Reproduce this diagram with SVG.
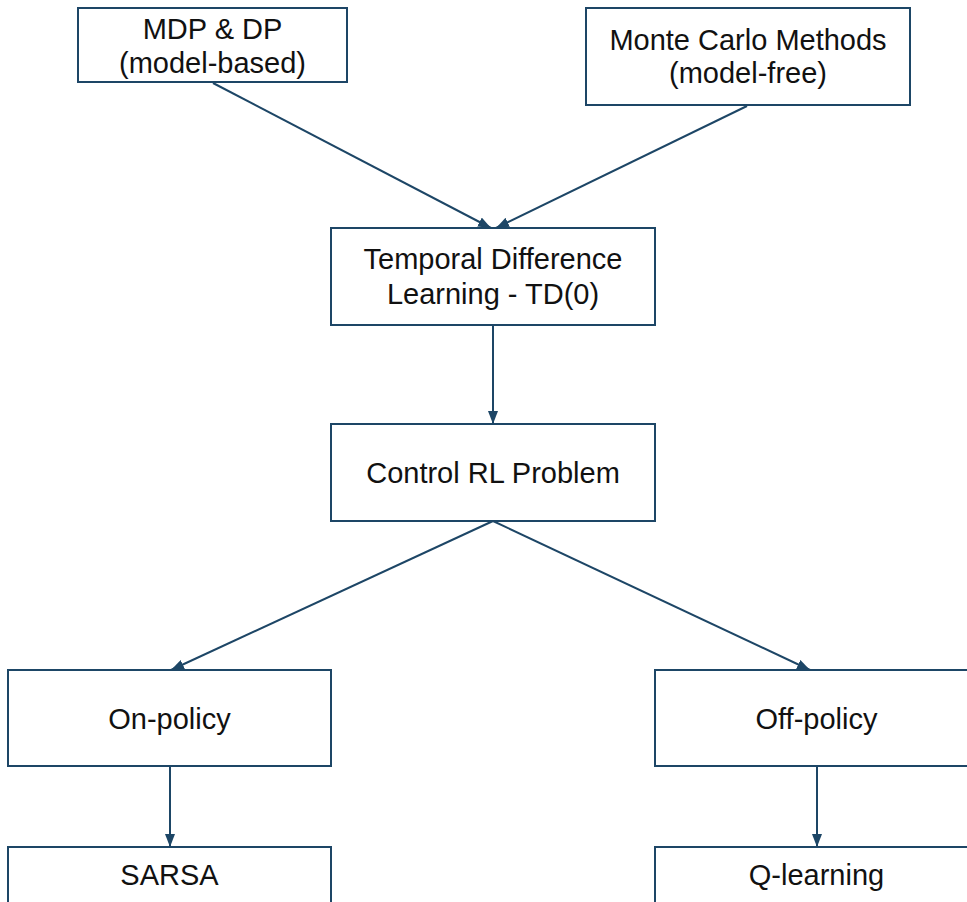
<svg xmlns="http://www.w3.org/2000/svg" width="967" height="902" viewBox="0 0 967 902">
  <style>
    .box { fill: #ffffff; stroke: #1d4666; stroke-width: 2; }
    .lbl { font-family: "Liberation Sans", Arial, sans-serif; font-size: 29px; fill: #111111; text-anchor: middle; }
    .edge { fill: none; stroke: #1d4666; stroke-width: 2; marker-end: url(#arrow); }
  </style>
  <defs>
    <marker id="arrow" markerUnits="userSpaceOnUse" markerWidth="13" markerHeight="10" refX="13" refY="5" orient="auto">
      <path d="M0,0 L13,5 L0,10 z" fill="#1d4666"/>
    </marker>
  </defs>
  <rect width="967" height="902" fill="#ffffff"/>

  <g id="edges">
    <path class="edge" d="M213,83 L491,228"/>
    <path class="edge" d="M747,106 L496,228"/>
    <path class="edge" d="M493,325 L493,424"/>
    <path class="edge" d="M493,521 L171,670"/>
    <path class="edge" d="M493,521 L810,670"/>
    <path class="edge" d="M170,766 L170,847"/>
    <path class="edge" d="M817,766 L817,847"/>
  </g>

  <g id="mdp-dp">
    <rect class="box" x="78" y="8" width="269" height="74"/>
    <text class="lbl" x="212.5" y="39">MDP &amp; DP</text>
    <text class="lbl" x="212.5" y="72.5">(model-based)</text>
  </g>

  <g id="monte-carlo">
    <rect class="box" x="586" y="8" width="324" height="97"/>
    <text class="lbl" x="748" y="49.5">Monte Carlo Methods</text>
    <text class="lbl" x="748" y="82.5">(model-free)</text>
  </g>

  <g id="td0">
    <rect class="box" x="331" y="228" width="324" height="97"/>
    <text class="lbl" x="493" y="269">Temporal Difference</text>
    <text class="lbl" x="493" y="303.5">Learning - TD(0)</text>
  </g>

  <g id="control">
    <rect class="box" x="331" y="424" width="324" height="97"/>
    <text class="lbl" x="493" y="483">Control RL Problem</text>
  </g>

  <g id="on-policy">
    <rect class="box" x="8" y="670" width="323" height="96"/>
    <text class="lbl" x="169.5" y="729">On-policy</text>
  </g>

  <g id="off-policy">
    <rect class="box" x="655" y="670" width="323" height="96"/>
    <text class="lbl" x="816.5" y="729">Off-policy</text>
  </g>

  <g id="sarsa">
    <rect class="box" x="8" y="847" width="323" height="96"/>
    <text class="lbl" x="169.5" y="885">SARSA</text>
  </g>

  <g id="q-learning">
    <rect class="box" x="655" y="847" width="323" height="96"/>
    <text class="lbl" x="816.5" y="885">Q-learning</text>
  </g>
</svg>
